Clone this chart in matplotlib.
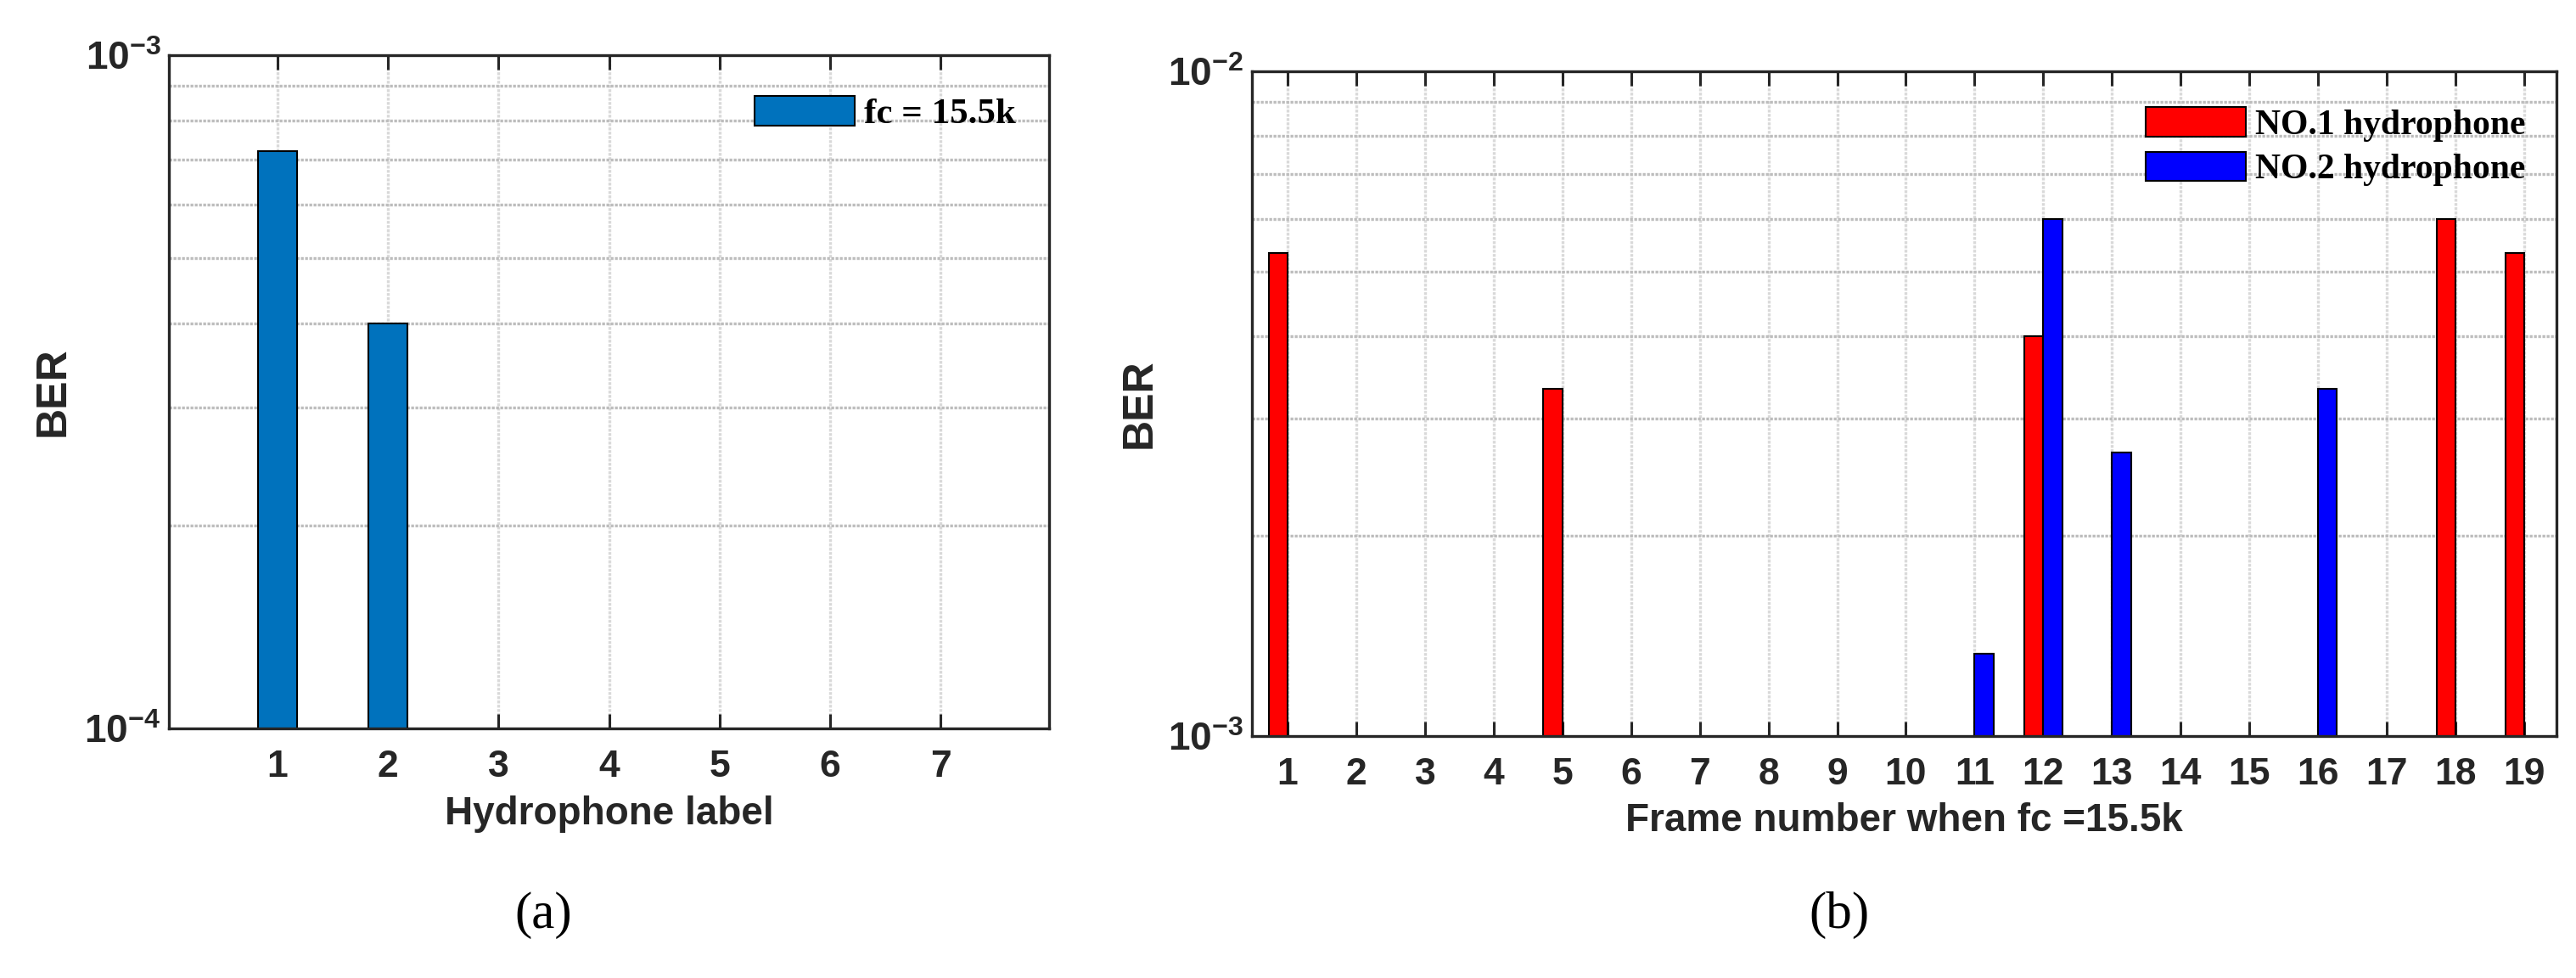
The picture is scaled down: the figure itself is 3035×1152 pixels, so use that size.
import matplotlib
matplotlib.use('Agg')
import matplotlib.pyplot as plt
import numpy as np

plt.rcParams['font.family'] = ['Liberation Sans', 'DejaVu Sans']
plt.rcParams['mathtext.fontset'] = 'custom'
plt.rcParams['mathtext.rm'] = 'Liberation Sans:bold'
plt.rcParams['mathtext.bf'] = 'Liberation Sans:bold'

# (a) BER per hydrophone, fc = 15.5k
hydrophone_labels = [1, 2, 3, 4, 5, 6, 7]
ber_hydrophone = [7.2e-4, 4.0e-4, 0, 0, 0, 0, 0]

# (b) BER per frame for the two hydrophones
frame_numbers = list(range(1, 20))
ber_no1 = [5.33e-3, 0, 0, 0, 3.33e-3, 0, 0, 0, 0, 0,
           0, 4.0e-3, 0, 0, 0, 0, 0, 6.0e-3, 5.33e-3]
ber_no2 = [0, 0, 0, 0, 0, 0, 0, 0, 0, 0,
           1.33e-3, 6.0e-3, 2.67e-3, 0, 0, 3.33e-3, 0, 0, 0]

SPINE = '#262626'


def style_axes(ax, ymin, ymax, ylabels, xlabel, ylabel_x):
    ax.set_yscale('log')
    ax.set_ylim(ymin, ymax)
    ax.set_yticks([ymin, ymax])
    ax.set_yticklabels(ylabels)
    ax.yaxis.set_minor_locator(matplotlib.ticker.LogLocator(base=10, subs=np.arange(2, 10)))
    ax.yaxis.set_minor_formatter(matplotlib.ticker.NullFormatter())
    ax.tick_params(axis='y', which='minor', length=0)
    ax.tick_params(axis='y', which='major', length=0, labelsize=33, pad=7, colors=SPINE)
    ax.tick_params(axis='x', which='major', direction='in', length=12, width=2.2,
                   top=True, labelsize=32, pad=18, colors=SPINE)
    for lab in ax.get_xticklabels():
        lab.set_fontweight('bold')
    for s in ax.spines.values():
        s.set_linewidth(2.4)
        s.set_color(SPINE)
    ax.grid(True, axis='y', which='minor', color='#bdbdbd', linestyle=(0, (1.0, 0.5)), linewidth=2.4)
    ax.grid(True, axis='x', which='major', color='#d9d9d9', linestyle=(0, (1.0, 0.5)), linewidth=2.4)
    ax.set_axisbelow(True)
    ax.set_xlabel(xlabel, fontsize=33, fontweight='bold', labelpad=9, color=SPINE)
    ax.set_ylabel('BER', fontsize=36, fontweight='bold', color=SPINE)
    ax.yaxis.set_label_coords(ylabel_x, 0.5)


fig = plt.figure(figsize=(30.35, 11.52), dpi=100)

# ---- panel (a)
ax1 = fig.add_axes([0.0656, 0.2552, 0.3417, 0.6884])
x1 = np.array(hydrophone_labels)
v1 = np.array(ber_hydrophone)
m1 = v1 > 0
ax1.bar(x1[m1], v1[m1], width=0.355, color='#0072BD', edgecolor='black',
        linewidth=1.5, label='fc = 15.5k')
ax1.set_xlim(0.02, 7.98)
ax1.set_xticks(hydrophone_labels)
style_axes(ax1, 1e-4, 1e-3, [r'$10^{-4}$', r'$10^{-3}$'], 'Hydrophone label', -0.109)
ax1.legend(loc='upper right', bbox_to_anchor=(0.962, 0.94), frameon=False,
           prop={'family': 'Liberation Serif', 'weight': 'bold', 'size': 31},
           handlelength=2.75, handleheight=0.89, handletextpad=0.25,
           borderpad=0, borderaxespad=0)

# ---- panel (b)
ax2 = fig.add_axes([0.4860, 0.2474, 0.5064, 0.6797])
xf = np.array(frame_numbers)
r = np.array(ber_no1)
b = np.array(ber_no2)
w = 0.276
ax2.bar(xf[r > 0] - w / 2, r[r > 0], width=w, color='#FF0000', edgecolor='black',
        linewidth=1.5, label='NO.1 hydrophone')
ax2.bar(xf[b > 0] + w / 2, b[b > 0], width=w, color='#0000FF', edgecolor='black',
        linewidth=1.5, label='NO.2 hydrophone')
ax2.set_xlim(0.48, 19.47)
ax2.set_xticks(frame_numbers)
style_axes(ax2, 1e-3, 1e-2, [r'$10^{-3}$', r'$10^{-2}$'], 'Frame number when fc =15.5k', -0.071)
ax2.legend(loc='upper right', bbox_to_anchor=(0.976, 0.946), frameon=False,
           prop={'family': 'Liberation Serif', 'weight': 'bold', 'size': 30},
           handlelength=2.83, handleheight=0.89, handletextpad=0.25,
           labelspacing=0.29, borderpad=0, borderaxespad=0)

# sub-figure captions
fig.text(640 / 3035, 1 - 1093 / 1152, '(a)', ha='center', va='baseline',
         fontsize=44, family='Liberation Serif')
fig.text(2167 / 3035, 1 - 1093 / 1152, '(b)', ha='center', va='baseline',
         fontsize=44, family='Liberation Serif')

fig.savefig('out.png', dpi=100)
